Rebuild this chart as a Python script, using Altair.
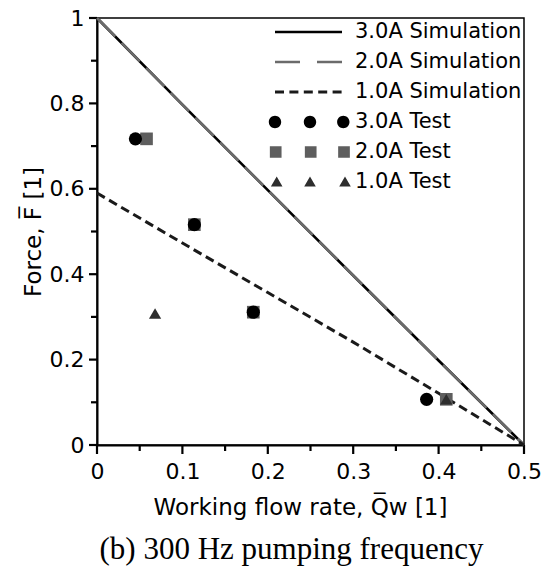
import altair as alt
import pandas as pd

# ---------------- data ----------------
sim_x = [0.0, 0.1, 0.2, 0.3, 0.4, 0.5]
sim_30 = [1.0, 0.797, 0.597, 0.397, 0.198, 0.0]
sim_20 = [1.0, 0.797, 0.597, 0.397, 0.198, 0.0]
sim_10 = [0.59, 0.473, 0.357, 0.241, 0.121, 0.0]

test30_x = [0.045, 0.114, 0.183, 0.386]
test30_y = [0.717, 0.516, 0.311, 0.107]
test20_x = [0.058, 0.114, 0.183, 0.409]
test20_y = [0.717, 0.516, 0.311, 0.107]
test10_x = [0.068, 0.409]
test10_y = [0.308, 0.107]

series_names = ["3.0A Simulation", "2.0A Simulation", "1.0A Simulation",
                "3.0A Test", "2.0A Test", "1.0A Test"]
series_colors = ["#000000", "#6b6b6b", "#1a1a1a", "#000000", "#5e5e5e", "#2e2e2e"]

x_major = [0.0, 0.1, 0.2, 0.3, 0.4, 0.5]
x_minor = [0.05, 0.15, 0.25, 0.35, 0.45]
y_major = [0.0, 0.2, 0.4, 0.6, 0.8, 1.0]
y_minor = [0.1, 0.3, 0.5, 0.7, 0.9]

x_title = "Working flow rate, Q\u0305\u1D21 [1]"
y_title = "Force, F\u0305 [1]"
caption = "(b) 300 Hz pumping frequency"

# ---------------- legend symbol paths (unit = 10 px) ----------------
def rect(x0, x1, h):
    return f"M{x0},{-h}H{x1}V{h}H{x0}Z"

def circ(cx, r):
    return (f"M{cx + r},0A{r},{r} 0 1 0 {cx - r},0"
            f"A{r},{r} 0 1 0 {cx + r},0Z")

def sq(cx, h):
    return f"M{cx - h},{-h}H{cx + h}V{h}H{cx - h}Z"

def tri(cx):
    return f"M{cx},-0.56L{cx + 0.58},0.44L{cx - 0.58},0.44Z"

path_sim30 = rect(-3.35, 3.35, 0.13)
path_sim20 = rect(-3.35, -0.85, 0.13) + rect(0.85, 3.35, 0.13)
path_sim10 = "".join(rect(s, s + 0.9, 0.15) for s in [-3.35, -1.91, -0.47, 0.97, 2.41])
path_t30 = "".join(circ(c, 0.62) for c in [-3.35, 0.15, 3.48])
path_t20 = "".join(sq(c, 0.585) for c in [-3.28, 0.22, 3.55])
path_t10 = "".join(tri(c) for c in [-3.18, 0.15, 3.65])
legend_paths = [path_sim30, path_sim20, path_sim10, path_t30, path_t20, path_t10]

# ---------------- frames ----------------
df30 = pd.DataFrame({"x": sim_x, "y": sim_30})
df20 = pd.DataFrame({"x": sim_x, "y": sim_20})
df10 = pd.DataFrame({"x": sim_x, "y": sim_10})
dt30 = pd.DataFrame({"x": test30_x, "y": test30_y})
dt20 = pd.DataFrame({"x": test20_x, "y": test20_y})
dt10 = pd.DataFrame({"x": test10_x, "y": test10_y})

firsts = [df30, df20, df10, dt30, dt20, dt10]
proxy = pd.DataFrame({
    "x": [d["x"].iloc[0] for d in firsts],
    "y": [d["y"].iloc[0] for d in firsts],
    "series": series_names,
})

FONT = "DejaVu Sans"
XS = alt.Scale(domain=[0, 0.5], nice=False)
YS = alt.Scale(domain=[0, 1], nice=False)

x_axis_major = alt.Axis(
    orient="bottom", values=x_major, ticks=False,
    labelExpr="format(datum.value, '.1~f')",
    labelFlush=False, labelOverlap=False, labelPadding=16,
    title=x_title, titlePadding=14, titleX=203,
)
y_axis_major = alt.Axis(
    orient="left", values=y_major, ticks=False,
    labelExpr="format(datum.value, '.1~f')",
    labelFlush=False, labelOverlap=False, labelPadding=13,
    title=y_title, titlePadding=4,
)


def enc(xa, ya):
    return dict(x=alt.X("x:Q", scale=XS, axis=xa), y=alt.Y("y:Q", scale=YS, axis=ya))


# tick marks (major + minor), drawn as rules through the shared scales
TICK = dict(color="black", strokeWidth=2.2, clip=False)
xt_major = alt.Chart(pd.DataFrame({"v": x_major})).mark_rule(**TICK).encode(
    x=alt.X("v:Q", scale=XS, axis=None), y=alt.value(427), y2=alt.value(436))
xt_minor = alt.Chart(pd.DataFrame({"v": x_minor})).mark_rule(**TICK).encode(
    x=alt.X("v:Q", scale=XS, axis=None), y=alt.value(427), y2=alt.value(433))
yt_major = alt.Chart(pd.DataFrame({"v": y_major})).mark_rule(**TICK).encode(
    y=alt.Y("v:Q", scale=YS, axis=None), x=alt.value(-8), x2=alt.value(0))
yt_minor = alt.Chart(pd.DataFrame({"v": y_minor})).mark_rule(**TICK).encode(
    y=alt.Y("v:Q", scale=YS, axis=None), x=alt.value(-6), x2=alt.value(0))

line30 = alt.Chart(df30).mark_line(color=series_colors[0], strokeWidth=2.6).encode(
    **enc(x_axis_major, y_axis_major))
line20 = alt.Chart(df20).mark_line(color=series_colors[1], strokeWidth=2.6,
                                   strokeDash=[26, 9]).encode(**enc(None, None))
line10 = alt.Chart(df10).mark_line(color=series_colors[2], strokeWidth=3,
                                   strokeDash=[9, 5]).encode(**enc(None, None))

pts20 = alt.Chart(dt20).mark_point(shape="square", filled=True, opacity=1,
                                   color=series_colors[4], size=160).encode(**enc(None, None))
pts30 = alt.Chart(dt30).mark_point(shape="circle", filled=True, opacity=1,
                                   color=series_colors[3], size=175).encode(**enc(None, None))
pts10 = alt.Chart(dt10).mark_point(shape="triangle-up", filled=True, opacity=1,
                                   color=series_colors[5], size=150).encode(**enc(None, None))

legend = alt.Legend(
    title=None, orient="none", legendX=171, legendY=-1, padding=0,
    clipHeight=30, rowPadding=0, symbolSize=400, symbolStrokeWidth=0,
    symbolOpacity=1, symbolOffset=30, labelOffset=36, labelLimit=0,
    labelFont=FONT, labelFontSize=21, labelColor="black",
)
proxy_layer = alt.Chart(proxy).mark_point(filled=True, opacity=0, size=1).encode(
    **enc(None, None),
    color=alt.Color("series:N", scale=alt.Scale(domain=series_names, range=series_colors),
                    legend=legend),
    shape=alt.Shape("series:N", scale=alt.Scale(domain=series_names, range=legend_paths),
                    legend=legend),
)

chart = alt.layer(
    line30, xt_major, xt_minor, yt_major, yt_minor,
    line20, line10, pts20, pts30, pts10, proxy_layer
).resolve_axis(
    x="independent", y="independent"
).properties(
    width=427, height=427,
    padding={"left": 97, "top": 18, "right": 20, "bottom": 121},
    autosize=alt.AutoSizeParams(type="none"),
    title=alt.TitleParams(caption, orient="bottom", font="Liberation Serif", fontSize=31,
                          fontWeight="normal", color="black", frame="group",
                          anchor="middle", dx=-19, offset=16),
).configure_view(
    stroke="black", strokeWidth=1.5
).configure_axis(
    domainColor="black", domainWidth=2,
    labelColor="black", titleColor="black", grid=False,
    labelFont=FONT, labelFontSize=22, titleFont=FONT, titleFontSize=23,
    titleFontWeight="normal",
)

chart.save("out.html", embed_options={"renderer": "svg", "actions": False})
